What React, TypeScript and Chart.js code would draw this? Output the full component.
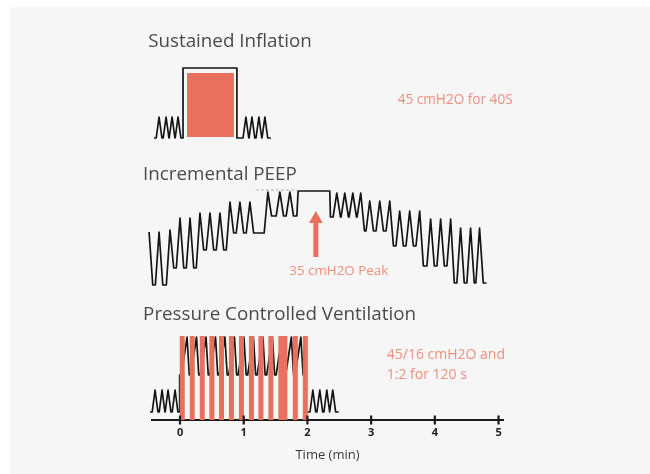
import React, { useEffect, useRef } from "react";
import { Chart, registerables } from "chart.js";

Chart.register(...registerables);

// ---------- DATA (time in minutes, pressure in arbitrary stacked units) ----------
const xTickValues = [0, 1, 2, 3, 4, 5];

// Sustained Inflation
const siStart = -0.408;
const siEnd = 1.426;
const siBase = 70.5;
const siBreathPeak = 75.75;
const siLeftPeaks = [-0.329, -0.219, -0.125, -0.031];
const siRightPeaks = [1.034, 1.129, 1.238, 1.332];
const siHoldStart = 0.047;
const siHoldEnd = 0.893;
const siHoldLevel = 88;
const siFillRange = [0.11, 0.846];
const siFillTop = 86.75;
const siFillBottom = 70.75;

// Incremental PEEP
const peepStart = -0.58;
const peepEnd = 4.812;
const peepLeftT = [-0.486, -0.329, -0.157, 0, 0.157, 0.313, 0.47, 0.627, 0.784, 0.94, 1.097, 1.379, 1.567, 1.724];
const peepLeftPeak = [47, 47, 47.5, 50.5, 50.5, 51.75, 51.75, 51.75, 54.5, 54.5, 54.5, 57, 57, 57];
const peepLeftBase = [33.75, 33.75, 38, 38, 38, 42.5, 42.5, 42.5, 46.75, 46.75, 46.75, 51, 51, 51];
const peepPlateauStart = 1.834;
const peepPlateauEnd = 2.351;
const peepPlateauLevel = 57.25;
const peepRightT = [2.461, 2.586, 2.712, 2.837, 2.978, 3.135, 3.292, 3.448, 3.605, 3.762, 3.934, 4.091, 4.248, 4.404, 4.561, 4.702];
const peepRightPeak = [56.75, 56.75, 56.75, 56.75, 54.75, 54.75, 54.75, 52.25, 52.25, 52.25, 50.25, 50.25, 50.25, 48, 48, 48];
const peepRightBase = [50.75, 50.75, 50.75, 47.25, 47.25, 47.25, 43.5, 43.5, 43.5, 38.5, 38.5, 38.5, 34.25, 34.25, 34.25, 34.25];
const peepDashRange = [1.19, 1.834];
const peepDashLevel = 57.5;
const arrowT = 2.132;
const arrowTail = 40.75;
const arrowShaftTop = 49.5;
const arrowHeadCenter = 50.25;

// Pressure Controlled Ventilation
const pcvStart = -0.47;
const pcvBase = 2;
const pcvBreathPeak = 7.5;
const pcvLeftPeaks = [-0.392, -0.282, -0.188, -0.078];
const pcvOnset = -0.016;
const pcvPeaks = [0.11, 0.259, 0.408, 0.557, 0.705, 0.854, 1.003, 1.152, 1.301, 1.45, 1.599, 1.748, 1.897];
const pcvPeakLevel = 20.75;
const pcvLowLevel = 11.25;
const pcvOffset = 1.96;
const pcvRightPeaks = [2.085, 2.194, 2.304, 2.398];
const pcvEnd = 2.492;
const pcvBarT = [0.035, 0.192, 0.349, 0.5, 0.651, 0.807, 0.964, 1.121, 1.27, 1.426, 1.583, 1.646, 1.81, 1.967];
const pcvBarTop = 21;

// Text
const titleTexts = ["Sustained Inflation", "Incremental PEEP", "Pressure Controlled Ventilation"];
const titleX = [-0.5, -0.58, -0.58];
const titleY = [94.5, 61.25, 26.25];
const noteTexts = ["45 cmH2O for 40S", "35 cmH2O Peak", "45/16 cmH2O and", "1:2 for 120 s"];
const noteX = [3.417, 2.492, 3.245, 3.245];
const noteY = [80, 37.25, 16.25, 11.25];
const noteAlign = ["left", "center", "left", "left"];
const noteSize = [13.6, 13.4, 14, 14];

// ---------- helpers ----------
type P = { x: number; y: number | null };

function addBreaths(pts: P[], peaksT: number[], peaks: number[], bases: number[], rise: number, fall: number) {
  for (let i = 0; i < peaksT.length; i++) {
    const last = pts[pts.length - 1];
    const cur = last.y as number;
    if (last.x < peaksT[i] - rise) pts.push({ x: peaksT[i] - rise, y: cur });
    pts.push({ x: peaksT[i], y: peaks[i] });
    pts.push({ x: peaksT[i] + fall, y: bases[i] });
  }
}
const fillArr = (n: number, v: number) => Array.from({ length: n }, () => v);

function buildSI(): P[] {
  const pts: P[] = [{ x: siStart, y: siBase }];
  addBreaths(pts, siLeftPeaks, fillArr(siLeftPeaks.length, siBreathPeak), fillArr(siLeftPeaks.length, siBase), 0.045, 0.045);
  pts.push({ x: siHoldStart, y: siBase }, { x: siHoldStart, y: siHoldLevel }, { x: siHoldEnd, y: siHoldLevel }, { x: siHoldEnd, y: siBase });
  addBreaths(pts, siRightPeaks, fillArr(siRightPeaks.length, siBreathPeak), fillArr(siRightPeaks.length, siBase), 0.045, 0.045);
  pts.push({ x: siEnd, y: siBase });
  return pts;
}

function buildPEEP(): P[] {
  const pts: P[] = [{ x: peepStart, y: peepLeftBase[0] }];
  addBreaths(pts, peepLeftT, peepLeftPeak, peepLeftBase, 0.058, 0.058);
  pts.push({ x: peepPlateauStart, y: peepLeftBase[peepLeftBase.length - 1] });
  pts.push({ x: peepPlateauStart + 0.02, y: peepPlateauLevel });
  pts.push({ x: peepPlateauEnd, y: peepPlateauLevel });
  pts.push({ x: peepPlateauEnd + 0.01, y: peepRightBase[0] });
  addBreaths(pts, peepRightT, peepRightPeak, peepRightBase, 0.058, 0.058);
  pts.push({ x: peepEnd, y: peepRightBase[peepRightBase.length - 1] });
  return pts;
}

function buildPCV(): P[] {
  const pts: P[] = [{ x: pcvStart, y: pcvBase }];
  addBreaths(pts, pcvLeftPeaks, fillArr(pcvLeftPeaks.length, pcvBreathPeak), fillArr(pcvLeftPeaks.length, pcvBase), 0.045, 0.045);
  pts.push({ x: pcvOnset, y: pcvBase }, { x: pcvOnset + 0.01, y: pcvLowLevel });
  addBreaths(pts, pcvPeaks, fillArr(pcvPeaks.length, pcvPeakLevel), fillArr(pcvPeaks.length, pcvLowLevel), 0.09, 0.035);
  pts.push({ x: pcvOffset, y: pcvLowLevel }, { x: pcvOffset + 0.01, y: pcvBase });
  addBreaths(pts, pcvRightPeaks, fillArr(pcvRightPeaks.length, pcvBreathPeak), fillArr(pcvRightPeaks.length, pcvBase), 0.045, 0.045);
  pts.push({ x: pcvEnd, y: pcvBase });
  return pts;
}

function buildBars(): P[] {
  const pts: P[] = [];
  pcvBarT.forEach((t) => {
    pts.push({ x: t, y: pcvBarTop }, { x: t, y: 0 }, { x: t, y: null });
  });
  return pts;
}

const RED = "#E9705E";
const NOTE_RED = "#F08E7C";
const INK = "#151515";
const FONT = "'Open Sans', 'Noto Sans', sans-serif";

const textPlugin = {
  id: "texts",
  afterDraw(chart: any) {
    const { ctx, scales } = chart;
    const xs = scales.x;
    const ys = scales.y;
    ctx.save();
    const axisY = chart.chartArea.bottom;
    ctx.strokeStyle = "#1a1a1a";
    ctx.lineWidth = 2.2;
    xTickValues.forEach((v) => {
      const px = xs.getPixelForValue(v);
      ctx.beginPath();
      ctx.moveTo(px, axisY - 4.5);
      ctx.lineTo(px, axisY + 4.5);
      ctx.stroke();
    });
    ctx.textBaseline = "middle";
    titleTexts.forEach((t, i) => {
      ctx.font = `18.8px ${FONT}`;
      ctx.fillStyle = "#4a4a4a";
      ctx.textAlign = "left";
      ctx.fillText(t, xs.getPixelForValue(titleX[i]), ys.getPixelForValue(titleY[i]));
    });
    noteTexts.forEach((t, i) => {
      ctx.font = `${noteSize[i]}px ${FONT}`;
      ctx.fillStyle = NOTE_RED;
      ctx.textAlign = noteAlign[i];
      ctx.fillText(t, xs.getPixelForValue(noteX[i]), ys.getPixelForValue(noteY[i]));
    });
    ctx.restore();
  },
};

export default function App() {
  const ref = useRef<HTMLCanvasElement | null>(null);
  useEffect(() => {
    if (!ref.current) return;
    const lineBase = {
      type: "line" as const,
      pointRadius: 0,
      borderColor: INK,
      borderWidth: 1.7,
      tension: 0,
      clip: false as any,
      fill: false,
      borderJoinStyle: "round" as const,
    };
    const chart = new Chart(ref.current, {
      type: "line",
      data: {
        datasets: [
          {
            ...lineBase,
            label: "PCV bars",
            data: buildBars() as any,
            borderColor: RED,
            borderWidth: 5,
            borderCapStyle: "butt",
            borderJoinStyle: "miter",
            spanGaps: false,
            order: 0,
          },
          {
            ...lineBase,
            label: "Arrow shaft",
            data: [{ x: arrowT, y: arrowTail }, { x: arrowT, y: arrowShaftTop }] as any,
            borderColor: RED,
            borderWidth: 5,
            borderCapStyle: "butt",
            order: 1,
          },
          {
            ...lineBase,
            label: "Arrow head",
            data: [{ x: arrowT, y: arrowHeadCenter }] as any,
            showLine: false,
            pointRadius: 8,
            pointStyle: "triangle",
            pointBackgroundColor: RED,
            pointBorderColor: RED,
            pointBorderWidth: 0,
            order: 1,
          },
          {
            ...lineBase,
            label: "SI fill",
            data: [{ x: siFillRange[0], y: siFillTop }, { x: siFillRange[1], y: siFillTop }] as any,
            borderWidth: 0,
            borderColor: RED,
            backgroundColor: RED,
            fill: { value: siFillBottom },
            order: 3,
          },
          { ...lineBase, label: "Sustained Inflation", data: buildSI() as any, order: 2 },
          { ...lineBase, label: "Incremental PEEP", data: buildPEEP() as any, order: 2 },
          {
            ...lineBase,
            label: "PEEP dash",
            data: [{ x: peepDashRange[0], y: peepDashLevel }, { x: peepDashRange[1], y: peepDashLevel }] as any,
            borderColor: "#b0b0b0",
            borderWidth: 1,
            borderDash: [3, 2],
            order: 2,
          },
          { ...lineBase, label: "PCV", data: buildPCV() as any, order: 2 },
        ],
      },
      options: {
        animation: false,
        responsive: false,
        devicePixelRatio: 1,
        events: [],
        layout: { padding: { left: 152, right: 147, top: 20, bottom: 0 } },
        plugins: { legend: { display: false }, tooltip: { enabled: false }, title: { display: false } },
        scales: {
          x: {
            type: "linear",
            min: -0.44,
            max: 5.07,
            afterFit: (s: any) => {
              s.height = 54;
            },
            grid: { display: false, drawTicks: false },
            border: { display: true, color: "#1a1a1a", width: 2 },
            ticks: {
              stepSize: 1,
              includeBounds: false,
              padding: 6,
              color: "#222",
              font: { family: FONT, size: 11, weight: "bold" },
              callback: (v: any) => (xTickValues.includes(Number(v)) ? String(v) : ""),
            },
            title: {
              display: true,
              text: "Time (min)",
              color: "#3a3a3a",
              font: { family: FONT, size: 13 },
              padding: { top: 0, bottom: 11 },
            },
          },
          y: { type: "linear", min: 0, max: 100, display: false },
        },
      },
      plugins: [textPlugin],
    });
    return () => chart.destroy();
  }, []);
  return (
    <div style={{ position: "fixed", left: 0, top: 0, width: 650, height: 474, background: "#ffffff" }}>
      <div style={{ position: "absolute", left: 10, top: 7, width: 640, height: 467, background: "#f6f6f6" }} />
      <canvas ref={ref} width={650} height={474} style={{ position: "absolute", left: 0, top: 0 }} />
    </div>
  );
}
